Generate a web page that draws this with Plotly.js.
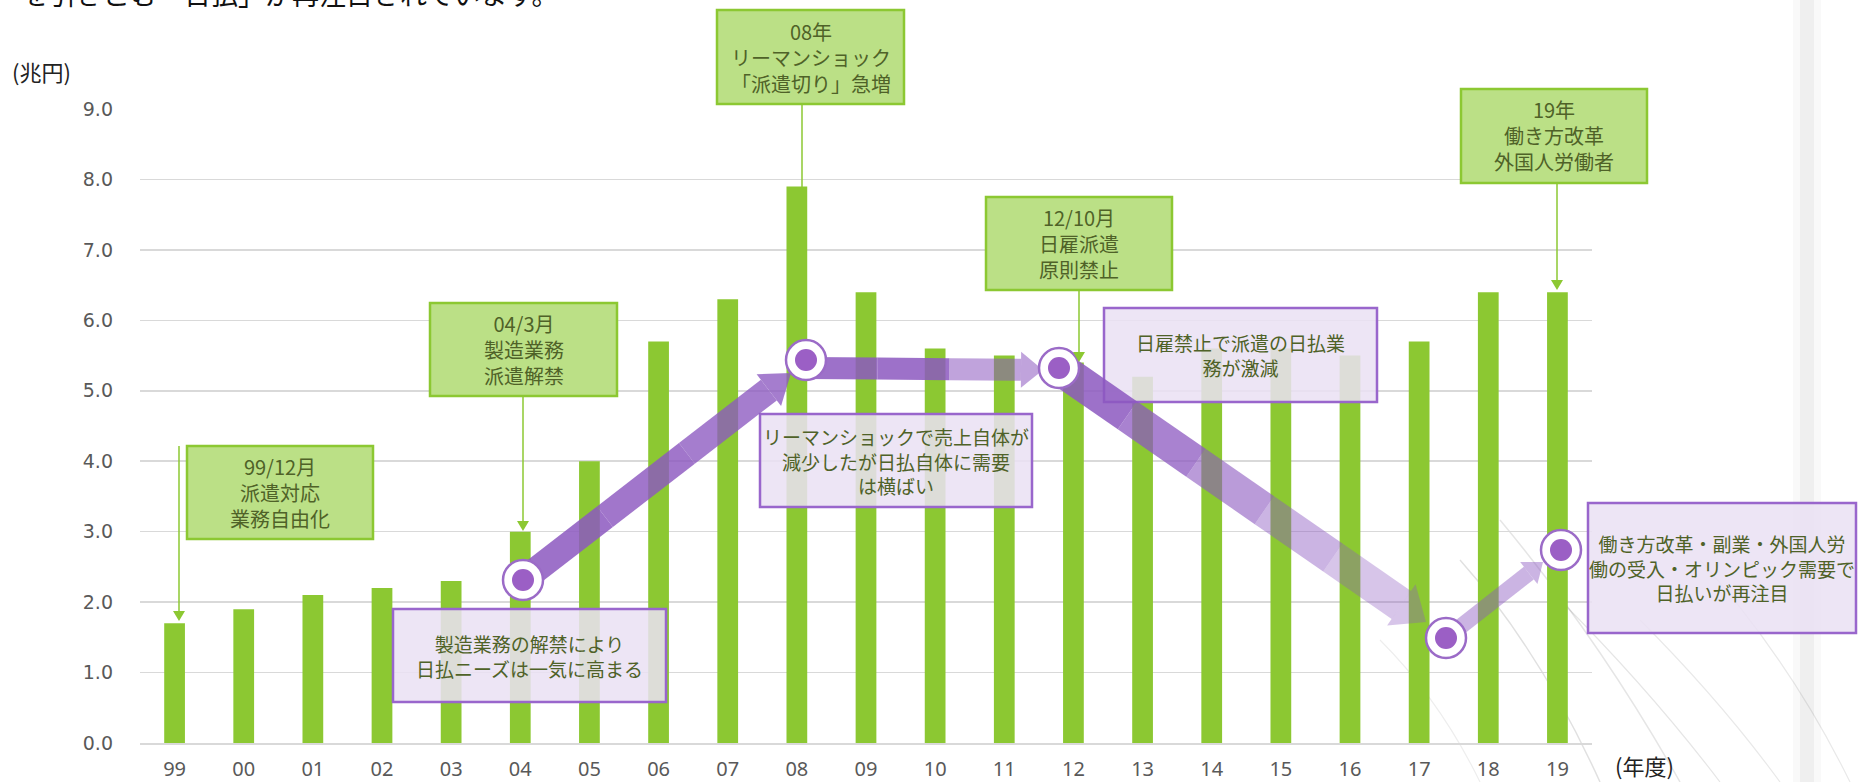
<!DOCTYPE html>
<html><head><meta charset="utf-8">
<script src="https://cdn.plot.ly/plotly-3.0.1.min.js"></script>
<style>html,body{margin:0;padding:0;background:#fff;}#chart{width:1860px;height:782px;}</style>
</head><body><div id="chart"></div>
<script>
// ---- data ----
const categories = ['99','00','01','02','03','04','05','06','07','08','09','10','11','12','13','14','15','16','17','18','19'];
const values = [1.7,1.9,2.1,2.2,2.3,3.0,4.0,5.7,6.3,7.9,6.4,5.6,5.5,5.4,5.2,5.6,5.6,5.5,5.7,6.4,6.4];
const yTickVals = [0,1,2,3,4,5,6,7,8,9];
const yTickText = ['0.0','1.0','2.0','3.0','4.0','5.0','6.0','7.0','8.0','9.0'];
const yUnit = '(兆円)';
const xUnit = '(年度)';
const headline = 'を引きこむ「日払」が再注目されています。';
const eventTexts = ['99/12月<br>派遣対応<br>業務自由化','04/3月<br>製造業務<br>派遣解禁','08年<br>リーマンショック<br>「派遣切り」急増','12/10月<br>日雇派遣<br>原則禁止','19年<br>働き方改革<br>外国人労働者'];
const noteTexts = ['製造業務の解禁により<br>日払ニーズは一気に高まる','リーマンショックで売上自体が<br>減少したが日払自体に需要<br>は横ばい','日雇禁止で派遣の日払業<br>務が激減','働き方改革・副業・外国人労<br>働の受入・オリンピック需要で<br>日払いが再注目'];

// ---- geometry (pixels) ----
const L=140,R=1592,T=109,B=743;
const xp = px => (px-L)/(R-L);
const yp = py => (B-py)/(B-T);
const shapes = [];
const annotations = [];
const CJK = '"Noto Sans CJK JP", "Noto Sans", sans-serif';

function rect(x0,y0,x1,y1,fill,line,lw,layer){
  shapes.push({type:'rect',xref:'paper',yref:'paper',x0:xp(x0),x1:xp(x1),y0:yp(y1),y1:yp(y0),fillcolor:fill,line:{color:line,width:lw},layer:layer||'above'});
}
function poly(pts,fill){
  shapes.push({type:'path',xref:'paper',yref:'paper',layer:'above',fillcolor:fill,line:{width:0},
    path:'M'+pts.map(p=>xp(p[0]).toFixed(5)+','+yp(p[1]).toFixed(5)).join('L')+'Z'});
}
function line(x0,y0,x1,y1,color,w,layer){
  shapes.push({type:'line',xref:'paper',yref:'paper',layer:layer||'above',x0:xp(x0),y0:yp(y0),x1:xp(x1),y1:yp(y1),line:{color:color,width:w}});
}
function curve(pts,color,w){
  let p='M'+xp(pts[0][0]).toFixed(5)+','+yp(pts[0][1]).toFixed(5)+' Q'+xp(pts[1][0]).toFixed(5)+','+yp(pts[1][1]).toFixed(5)+' '+xp(pts[2][0]).toFixed(5)+','+yp(pts[2][1]).toFixed(5);
  shapes.push({type:'path',xref:'paper',yref:'paper',layer:'below',path:p,line:{color:color,width:w}});
}
function circle(cx,cy,r,fill,lc,lw){
  shapes.push({type:'circle',xref:'paper',yref:'paper',layer:'above',x0:xp(cx-r),x1:xp(cx+r),y0:yp(cy+r),y1:yp(cy-r),fillcolor:fill,line:{color:lc,width:lw}});
}
function text(cx,cy,t,size,color,xa,fam){
  annotations.push({xref:'paper',yref:'paper',x:xp(cx),y:yp(cy),text:t,showarrow:false,xanchor:xa||'center',yanchor:'middle',align:'center',font:{family:fam||CJK,size:size,color:color}});
}
function bigArrow(x1,y1,x2,y2,sw,hw,hl,rgb,alphas){
  const dx=x2-x1, dy=y2-y1, len=Math.hypot(dx,dy);
  const ux=dx/len, uy=dy/len, nx=-uy, ny=ux;
  const shaftLen=len-hl, n=alphas.length;
  for(let i=0;i<n;i++){
    const a=shaftLen*i/n, b=shaftLen*(i+1)/n;
    const P=(t,s)=>[x1+ux*t+nx*s, y1+uy*t+ny*s];
    poly([P(a,sw/2),P(b,sw/2),P(b,-sw/2),P(a,-sw/2)],`rgba(${rgb},${alphas[i]})`);
  }
  const bx=x1+ux*shaftLen, by=y1+uy*shaftLen;
  poly([[bx+nx*hw/2,by+ny*hw/2],[x2,y2],[bx-nx*hw/2,by-ny*hw/2]],`rgba(${rgb},${alphas[n-1]})`);
}
function callout(x,y0,y1,head){
  line(x,y0,x,y1-(head?8:0),'#8cc832',1.5);
  if(head) poly([[x-6,y1-10],[x+6,y1-10],[x,y1]],'#8cc832');
}

// faint background texture (photo in the original)
rect(1800,0,1814,782,'rgba(0,0,0,0.04)','rgba(0,0,0,0)',0,'below');
rect(1793,0,1821,782,'rgba(0,0,0,0.025)','rgba(0,0,0,0)',0,'below');
curve([[1460,560],[1540,650],[1600,782]],'rgba(0,0,0,0.12)',1.5);
curve([[1500,520],[1600,640],[1680,782]],'rgba(0,0,0,0.10)',1.5);
curve([[1560,600],[1650,690],[1720,782]],'rgba(0,0,0,0.10)',1.2);
curve([[1640,620],[1720,700],[1780,782]],'rgba(0,0,0,0.09)',1.2);
curve([[1700,560],[1790,660],[1850,782]],'rgba(0,0,0,0.09)',1.2);
curve([[1380,640],[1440,700],[1480,782]],'rgba(0,0,0,0.07)',1.2);

// purple note boxes
const PF='rgba(234,225,243,0.86)', PB='#9966cc';
const notes=[[393,609,666,702],[760,414,1032,507],[1104,308,1377,402],[1588,503,1856,633]];
notes.forEach(b=>{rect(b[0],b[1],b[2],b[3],PF,PB,2.5);});

// arrows
const purple='140,88,192';
bigArrow(523,580,791,373,26,40,28,purple,[0.85,0.82,0.78]);
bigArrow(806,368,1043,370,22,36,22,purple,[0.85,0.85,0.55]);
bigArrow(1059,368,1426,622,34,50,30,purple,[0.85,0.75,0.6,0.45,0.35]);
bigArrow(1446,638,1543,562,16,28,18,purple,[0.45]);

// nodes
[[523,580],[806,360],[1059,368],[1446,638],[1561,550]].forEach(c=>{
  circle(c[0],c[1],20,'#ffffff','#9b6bc7',2.5);
  circle(c[0],c[1],11,'#9b5fc5','#9b5fc5',0);
});

// green callouts
callout(179,446,621,true);
callout(523,396,531,true);
callout(802,104,188,false);
callout(1079,290,362,true);
callout(1557,184,290,true);
const GF='#bbe086', GB='#8cc832';
const events=[[187,446,373,539],[430,303,617,396],[717,10,904,104],[986,197,1172,290],[1461,89,1647,183]];
events.forEach((b,i)=>{rect(b[0],b[1],b[2],b[3],GF,GB,2.5); text((b[0]+b[2])/2,(b[1]+b[3])/2,eventTexts[i],20,'#4f6228');});
notes.forEach((b,i)=>{text((b[0]+b[2])/2,(b[1]+b[3])/2,noteTexts[i],19,'#4f6228');});

// units & headline
text(10,71,yUnit,22,'#222222','left');
text(1613,765,xUnit,22,'#222222','left');
text(20,-7,headline,27,'#111111','left');

const data=[{type:'bar',x:categories,y:values,width:0.3,marker:{color:'#8cc832'},hoverinfo:'skip'}];
const layout={
  width:1860,height:782,margin:{l:L,r:1860-R,t:T,b:782-B,pad:0},
  paper_bgcolor:'#ffffff',plot_bgcolor:'rgba(0,0,0,0)',showlegend:false,
  xaxis:{type:'category',range:[-0.5,20.5],showline:true,linecolor:'#d9d9d9',linewidth:2,showgrid:false,ticks:'',
    tickfont:{family:'"Noto Sans", sans-serif',size:20,color:'#595959'},ticklabelstandoff:7,fixedrange:true},
  yaxis:{range:[0,9],tickvals:yTickVals,ticktext:yTickText,showgrid:true,gridcolor:'#d9d9d9',gridwidth:1.5,zeroline:false,showline:false,ticks:'',
    tickfont:{family:'"DejaVu Sans", sans-serif',size:19,color:'#595959'},ticklabelstandoff:26,fixedrange:true},
  shapes:shapes,annotations:annotations
};
Plotly.newPlot('chart',data,layout,{displayModeBar:false,staticPlot:true});
</script></body></html>
